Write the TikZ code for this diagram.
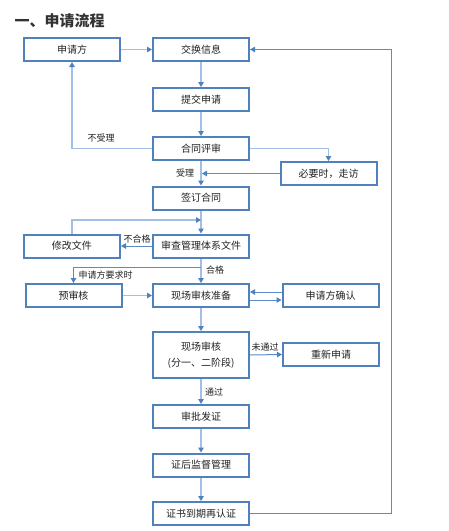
\documentclass[tikz,border=0pt]{standalone}
\usepackage{fontspec}
\setmainfont{Noto Sans CJK SC}
\usetikzlibrary{arrows.meta,calc}
\definecolor{boxblue}{HTML}{4F81BD}
\definecolor{lineblue}{HTML}{A3BFE6}
\definecolor{darkline}{HTML}{5B8BC9}
\definecolor{txt}{HTML}{222222}
\tikzset{
  box/.style={draw=boxblue,line width=2pt,fill=white,minimum width=96pt,minimum height=23pt,inner sep=0pt,font=\fontsize{10}{11.5}\selectfont,text=txt,align=center},
  arr/.style={draw=lineblue,line width=1.6pt,-{Triangle[length=5pt,width=5.5pt,color=boxblue]}},
  darr/.style={draw=darkline,line width=1pt,-{Triangle[length=5pt,width=5.5pt,color=boxblue]}},
  lab/.style={font=\fontsize{9}{10}\selectfont,text=txt,inner sep=0pt}
}
\begin{document}
\begin{tikzpicture}[x=1pt,y=-1pt]
\useasboundingbox (0,0) rectangle (449,531);
\node[anchor=west,font=\fontsize{15}{17}\selectfont\bfseries,text=black!80,inner sep=0pt] (title) at (14.5,21) {一、申请流程};
\node[box] (sqf) at (72,49.5) {申请方};
\node[box] (jh) at (201,49.5) {交换信息};
\node[box] (tj) at (201,99.5) {提交申请};
\node[box] (ht) at (201,148.5) {合同评审};
\node[box] (by) at (328.5,173.5) {必要时，走访};
\node[box] (qd) at (201,198) {签订合同};
\node[box] (xg) at (72,246) {修改文件};
\node[box] (sc) at (201,246) {审查管理体系文件};
\node[box] (ys) at (73.5,295.5) {预审核};
\node[box] (xz) at (201,295.5) {现场审核准备};
\node[box] (qr) at (330.5,295.5) {申请方确认};
\node[box,minimum height=46pt] (xs) at (201,355) {现场审核\\[4pt](分一、二阶段)};
\node[box] (cx) at (331,354.5) {重新申请};
\node[box] (sp) at (201,416.5) {审批发证};
\node[box] (zh) at (201,465) {证后监督管理};
\node[box] (zs) at (201,513.5) {证书到期再认证};

\coordinate (accept) at (202,173.5);
\coordinate (loopA) at (72,220);
\coordinate (loopB) at (201,220);
\coordinate (branch) at (201,267.5);
\coordinate (rr) at (391,513.5);

\draw[arr] (sqf.east) -- (jh.west);
\draw[arr] (jh.south) -- (tj.north);
\draw[arr] (tj.south) -- (ht.north);
\draw[arr] (ht.west) -| (sqf.south);
\draw[arr] (ht.east) -| (by.north);
\draw[darr] (by.west) -- (accept);
\draw[arr] (ht.south) -- (qd.north);
\draw[arr] (qd.south) -- (sc.north);
\draw[arr] (xg.north) -- (loopA) -- (loopB);
\draw[darr] (sc.west) -- (xg.east);
\draw[arr] (sc.south) -- (xz.north);
\draw[darr] (branch) -| (ys.north);
\draw[arr] (ys.east) -- (xz.west);
\draw[darr] ($(qr.west)+(0,-3.5)$) -- ($(xz.east)+(0,-3.5)$);
\draw[darr] ($(xz.east)+(0,4.5)$) -- ($(qr.west)+(0,4.5)$);
\draw[arr] (xz.south) -- (xs.north);
\draw[darr] (xs.east) -- (cx.west);
\draw[arr] (xs.south) -- (sp.north);
\draw[arr] (sp.south) -- (zh.north);
\draw[arr] (zh.south) -- (zs.north);
\draw[darr] (zs.east) -- (rr) |- (jh.east);

\node[lab] (l1) at (101,138) {不受理};
\node[lab] (l2) at (185,173) {受理};
\node[lab] (l3) at (137,239.5) {不合格};
\node[lab] (l4) at (215,270) {合格};
\node[lab] (l5) at (105.5,275) {申请方要求时};
\node[lab] (l6) at (265,347) {未通过};
\node[lab] (l7) at (214,392) {通过};
\end{tikzpicture}
\end{document}
